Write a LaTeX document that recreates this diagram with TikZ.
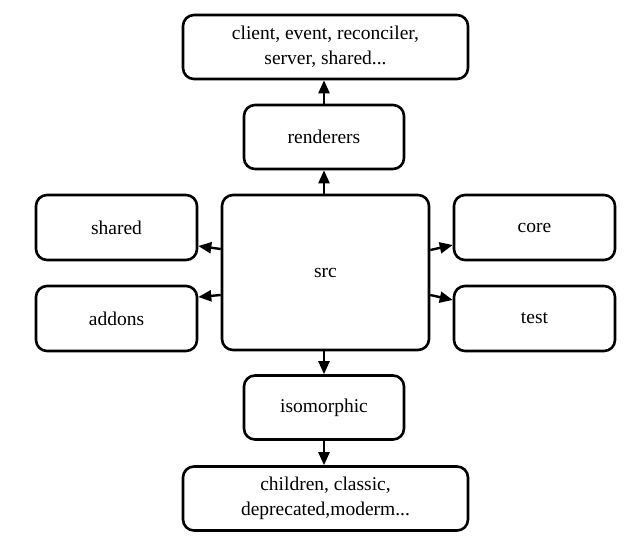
\documentclass[tikz,border=0pt]{standalone}
\usepackage{fontspec}
\setmainfont{Liberation Serif}
\usetikzlibrary{arrows.meta}
\begin{document}
\begin{tikzpicture}[x=1pt,y=-1pt,
  box/.style={draw=black, line width=2.6pt, rounded corners=11pt, align=center,
    font=\fontsize{19.5}{25}\selectfont, inner sep=0pt},
  wide/.style={box, minimum width=285pt, minimum height=64pt},
  mid/.style={box, minimum width=160pt, minimum height=64pt},
  side/.style={box, minimum width=161pt, minimum height=65pt},
  arr/.style={line width=2.4pt, -{Triangle[length=13pt,width=11pt]}}]
\useasboundingbox (0,0) rectangle (632,541);
\node[wide] (top) at (325.5,47) {client, event, reconciler,\\server, shared...};
\node[mid] (renderers) at (324,137) {renderers};
\node[box, minimum width=207pt, minimum height=155pt] (src) at (325.5,272.5) {src};
\node[side] (shared) at (116.5,227.5) {shared};
\node[side] (addons) at (116.5,318.5) {addons};
\node[side] (core) at (534.5,227.5) {core};
\node[side] (test) at (534.5,318.5) {test};
\node[mid] (iso) at (324,407.5) {isomorphic};
\node[wide] (bottom) at (325.5,498.5) {children, classic,\\deprecated,moderm...};
\draw[arr] (src.north -| renderers.south) -- (renderers.south);
\draw[arr] (renderers.north) -- (renderers.north |- top.south);
\draw[arr] (src.south -| iso.north) -- (iso.north);
\draw[arr] (iso.south) -- (iso.south |- bottom.north);
\draw[arr] ([yshift=23.5pt]src.west) -- ([yshift=-18.5pt]shared.east);
\draw[arr] ([yshift=-22.5pt]src.west) -- ([yshift=21.5pt]addons.east);
\draw[arr] ([yshift=22.5pt]src.east) -- ([yshift=-17.5pt]core.west);
\draw[arr] ([yshift=-22.5pt]src.east) -- ([yshift=18.5pt]test.west);
\end{tikzpicture}
\end{document}
